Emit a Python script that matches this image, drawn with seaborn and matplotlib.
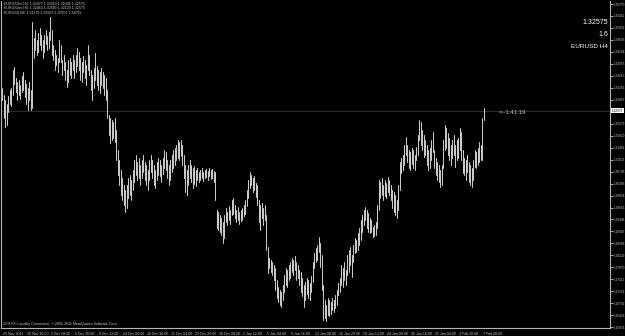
import matplotlib
matplotlib.use("Agg")
import matplotlib.pyplot as plt
import matplotlib.transforms as mtransforms
import numpy as np
import pandas as pd
import seaborn as sns

# ---------------- data (EURUSD H4) ----------------
high = [
    1.3325,1.3304,1.3289,1.3277,1.3301,1.3319,1.3325,1.3379,1.3388,1.3355,1.3343,1.3349,1.3334,1.3361,1.3373,1.3349,
    1.3337,1.3325,1.3343,1.3319,1.3523,1.3475,1.3499,1.3469,1.3490,1.3505,1.3484,1.3469,1.3484,1.3499,1.3481,1.3493,
    1.3538,1.3499,1.3454,1.3439,1.3424,1.3415,1.3469,1.3454,1.3409,1.3424,1.3403,1.3379,1.3409,1.3415,1.3403,1.3424,
    1.3409,1.3424,1.3445,1.3433,1.3415,1.3403,1.3421,1.3409,1.3394,1.3454,1.3424,1.3379,1.3364,1.3385,1.3430,1.3391,
    1.3379,1.3373,1.3385,1.3373,1.3364,1.3355,1.3319,1.3244,1.3235,1.3229,1.3223,1.3235,1.3199,1.3139,1.3109,1.3079,
    1.3055,1.3034,1.3019,1.3034,1.3055,1.3064,1.3049,1.3079,1.3109,1.3124,1.3103,1.3115,1.3094,1.3109,1.3124,1.3103,
    1.3094,1.3079,1.3109,1.3124,1.3109,1.3094,1.3079,1.3103,1.3115,1.3109,1.3094,1.3115,1.3139,1.3133,1.3109,1.3094,
    1.3109,1.3124,1.3139,1.3145,1.3154,1.3169,1.3163,1.3169,1.3154,1.3124,1.3094,1.3079,1.3094,1.3109,1.3094,1.3085,
    1.3091,1.3079,1.3085,1.3073,1.3079,1.3085,1.3073,1.3079,1.3082,1.3076,1.3085,1.3079,1.3082,1.3076,1.3073,1.2959,
    1.2953,1.2944,1.2935,1.2923,1.2944,1.2965,1.2953,1.2971,1.2959,1.2989,1.2995,1.2974,1.2959,1.2968,1.2953,1.2959,
    1.2965,1.2974,1.2989,1.3019,1.3049,1.3073,1.3064,1.3055,1.3061,1.3040,1.3034,1.2989,1.2974,1.2980,1.2965,1.2974,
    1.2944,1.2848,1.2815,1.2809,1.2803,1.2794,1.2785,1.2749,1.2728,1.2719,1.2713,1.2734,1.2764,1.2785,1.2779,1.2794,
    1.2803,1.2815,1.2809,1.2821,1.2803,1.2794,1.2779,1.2773,1.2755,1.2734,1.2743,1.2755,1.2749,1.2740,1.2761,1.2803,
    1.2830,1.2845,1.2854,1.2878,1.2860,1.2824,1.2734,1.2689,1.2674,1.2695,1.2689,1.2683,1.2695,1.2689,1.2704,1.2719,
    1.2740,1.2755,1.2794,1.2785,1.2803,1.2779,1.2824,1.2839,1.2848,1.2824,1.2854,1.2875,1.2869,1.2890,1.2905,1.2929,
    1.2944,1.2959,1.2968,1.2959,1.2950,1.2935,1.2929,1.2908,1.2914,1.2923,1.2974,1.3049,1.3043,1.3055,1.3034,1.3049,
    1.3040,1.3058,1.3049,1.3034,1.3019,1.3013,1.3004,1.2989,1.3034,1.3103,1.3115,1.3124,1.3154,1.3178,1.3154,1.3139,
    1.3133,1.3145,1.3139,1.3124,1.3148,1.3184,1.3229,1.3223,1.3199,1.3184,1.3169,1.3154,1.3139,1.3145,1.3169,1.3193,
    1.3139,1.3115,1.3103,1.3094,1.3079,1.3094,1.3169,1.3214,1.3205,1.3190,1.3175,1.3154,1.3169,1.3184,1.3154,1.3169,
    1.3175,1.3205,1.3193,1.3139,1.3115,1.3109,1.3124,1.3103,1.3094,1.3085,1.3109,1.3139,1.3133,1.3145,1.3163,1.3154,
    1.3235,1.3265,
]
low = [
    1.3289,1.3235,1.3208,1.3214,1.3253,1.3277,1.3271,1.3304,1.3337,1.3313,1.3289,1.3304,1.3292,1.3313,1.3319,1.3298,
    1.3277,1.3259,1.3289,1.3259,1.3265,1.3415,1.3439,1.3424,1.3433,1.3454,1.3439,1.3415,1.3433,1.3457,1.3439,1.3445,
    1.3469,1.3424,1.3409,1.3379,1.3394,1.3373,1.3403,1.3403,1.3364,1.3379,1.3349,1.3328,1.3343,1.3364,1.3355,1.3379,
    1.3355,1.3373,1.3391,1.3379,1.3349,1.3343,1.3373,1.3355,1.3334,1.3379,1.3364,1.3319,1.3289,1.3325,1.3349,1.3334,
    1.3319,1.3310,1.3334,1.3325,1.3304,1.3289,1.3235,1.3184,1.3160,1.3169,1.3175,1.3163,1.3109,1.3064,1.3034,1.3004,
    1.2989,1.2974,1.2953,1.2965,1.2995,1.3004,1.2989,1.3019,1.3043,1.3064,1.3049,1.3055,1.3034,1.3055,1.3073,1.3049,
    1.3034,1.3019,1.3049,1.3073,1.3055,1.3034,1.3025,1.3049,1.3064,1.3061,1.3043,1.3067,1.3085,1.3079,1.3055,1.3034,
    1.3049,1.3073,1.3085,1.3094,1.3109,1.3115,1.3109,1.3121,1.3094,1.3055,1.3013,1.3004,1.3034,1.3055,1.3043,1.3025,
    1.3037,1.3031,1.3049,1.3043,1.3049,1.3055,1.3046,1.3055,1.3058,1.3049,1.3061,1.3052,1.3055,1.3043,1.2989,1.2905,
    1.2899,1.2893,1.2884,1.2860,1.2875,1.2923,1.2914,1.2929,1.2917,1.2944,1.2947,1.2935,1.2923,1.2929,1.2917,1.2926,
    1.2929,1.2941,1.2947,1.2971,1.2995,1.3025,1.3034,1.3013,1.3019,1.2998,1.2974,1.2923,1.2899,1.2935,1.2914,1.2929,
    1.2839,1.2770,1.2785,1.2773,1.2764,1.2749,1.2719,1.2695,1.2683,1.2674,1.2668,1.2689,1.2713,1.2734,1.2728,1.2749,
    1.2755,1.2773,1.2764,1.2779,1.2749,1.2755,1.2734,1.2713,1.2701,1.2668,1.2689,1.2707,1.2695,1.2689,1.2713,1.2743,
    1.2785,1.2803,1.2809,1.2833,1.2788,1.2719,1.2629,1.2635,1.2626,1.2644,1.2641,1.2647,1.2659,1.2653,1.2665,1.2674,
    1.2704,1.2713,1.2734,1.2728,1.2749,1.2734,1.2764,1.2773,1.2794,1.2758,1.2803,1.2830,1.2833,1.2839,1.2854,1.2869,
    1.2893,1.2914,1.2929,1.2905,1.2893,1.2890,1.2893,1.2878,1.2881,1.2884,1.2905,1.2959,1.2995,1.3004,1.2989,1.3001,
    1.2995,1.3013,1.3004,1.2989,1.2965,1.2953,1.2944,1.2935,1.2959,1.3019,1.3070,1.3079,1.3094,1.3124,1.3103,1.3085,
    1.3079,1.3097,1.3085,1.3079,1.3109,1.3124,1.3169,1.3154,1.3139,1.3118,1.3124,1.3094,1.3079,1.3085,1.3109,1.3133,
    1.3085,1.3064,1.3049,1.3043,1.3028,1.3034,1.3085,1.3139,1.3145,1.3124,1.3109,1.3094,1.3115,1.3124,1.3088,1.3109,
    1.3115,1.3139,1.3109,1.3070,1.3064,1.3049,1.3073,1.3043,1.3034,1.3028,1.3049,1.3088,1.3085,1.3094,1.3103,1.3109,
    1.3109,1.3229,
]

time_labels = [
    "25 Nov 2011", "29 Nov 16:00", "2 Dec 08:00", "6 Dec 20:00", "9 Dec 12:00",
    "14 Dec 00:00", "16 Dec 16:00", "21 Dec 04:00", "23 Dec 20:00", "28 Dec 08:00",
    "2 Jan 12:00", "5 Jan 04:00", "9 Jan 16:00", "12 Jan 08:00", "16 Jan 20:00",
    "19 Jan 12:00", "24 Jan 00:00", "26 Jan 16:00", "31 Jan 04:00", "2 Feb 20:00",
    "7 Feb 08:00",
]
bars_per_label = 16

price_ticks = [
    1.35770, 1.35411, 1.35052, 1.34693, 1.34334, 1.33975, 1.33615, 1.33256, 1.32897,
    1.32179, 1.31820, 1.31461, 1.31102, 1.30743, 1.30383, 1.30024, 1.29665, 1.29306,
    1.28947, 1.28588, 1.28229, 1.27870, 1.27511, 1.27151, 1.26792, 1.26433, 1.26074,
]

current_price = 1.32575
timer_text = "<--1:41:19"
comment_lines = ["1.32575", "1.6", "EURUSD H4"]
header_lines = [
    "EURUSDm,H4  1.32477 1.32563 1.32436 1.32575",
    "EURUSDm,H4  1.32463 1.32580 1.32129 1.32575",
    "EURUSD,H4  1.31179 1.32563 1.30953 1.32099",
]
copyright_text = "CFH FX Liquidity Connection, \u00a9 2001-2011 MetaQuotes Software Corp."

# ---------------- style ----------------
sns.set_theme(style="dark", rc={
    "axes.facecolor": "black",
    "figure.facecolor": "black",
    "axes.edgecolor": "#b4b4b4",
    "text.color": "#c8c8c8",
    "xtick.color": "#b4b4b4",
    "ytick.color": "#c8c8c8",
    "axes.grid": False,
})
plt.rcParams["font.family"] = ["Liberation Sans", "DejaVu Sans"]

W, H = 625, 336
fig = plt.figure(figsize=(W / 100, H / 100), dpi=100)
ax = fig.add_axes([1 / W, 8 / H, 609 / W, 327 / H])

n = len(high)
bars = np.arange(n)
df = pd.DataFrame({
    "bar": np.concatenate([bars, bars]),
    "price": np.concatenate([np.array(low), np.array(high)]),
})
sns.lineplot(data=df, x="bar", y="price", units="bar", estimator=None,
             color="#c8c8c8", lw=0.75, ax=ax, legend=False, sort=False)

ax.set_xlim(-0.667, 405.33)
ax.set_ylim(1.2605, 1.3586)
ax.set_xlabel("")
ax.set_ylabel("")

# current price line
ax.axhline(current_price, color="#2a2a2a", lw=0.8, zorder=0)

# spines
for side in ["left", "bottom", "right"]:
    ax.spines[side].set_visible(True)
    ax.spines[side].set_color("#b4b4b4")
    ax.spines[side].set_linewidth(0.8)
ax.spines["top"].set_visible(False)

# y axis on right
ax.yaxis.tick_right()
ax.set_yticks(price_ticks)
ax.set_yticklabels([f"{v:.5f}" for v in price_ticks])
ax.tick_params(axis="y", which="both", direction="out", length=2, width=0.6,
               pad=0.6, labelsize=2.25, colors="#c8c8c8")

# x axis ticks and labels
xt = [k * bars_per_label for k in range(len(time_labels))]
ax.set_xticks(xt)
ax.set_xticklabels([""] * len(xt))
ax.tick_params(axis="x", direction="out", length=3, width=0.6, colors="#b4b4b4")
tr = mtransforms.blended_transform_factory(ax.transData, ax.transAxes)
for x, lab in zip(xt, time_labels):
    ax.text(x + 0.8, -0.012, lab, transform=tr, fontsize=2.6, color="#c8c8c8",
            ha="left", va="top", clip_on=False)

# current price label on the axis
trp = mtransforms.blended_transform_factory(ax.transAxes, ax.transData)
ax.text(1.0025, current_price, f"{current_price:.5f}", transform=trp, fontsize=2.25,
        color="black", ha="left", va="center", clip_on=False,
        bbox=dict(boxstyle="square,pad=0.25", fc="white", ec="white", lw=0))

# timer text
ax.text(331, current_price, timer_text, fontsize=4.2, color="#c8c8c8",
        ha="left", va="top")

# comment text top right
for i, line in enumerate(comment_lines):
    fig.text(608 / W, 1 - (23 + 11.5 * i) / H, line, fontsize=5.0 if i < 2 else 4.6,
             color="white", ha="right", va="center")

# header lines top left
for i, line in enumerate(header_lines):
    fig.text(4 / W, 1 - (3.5 + 4.5 * i) / H, line, fontsize=2.6, color="#c8c8c8",
             ha="left", va="center")

# copyright
ax.text(0.003, 0.006, copyright_text, transform=ax.transAxes, fontsize=2.6,
        color="#c8c8c8", ha="left", va="bottom")

fig.savefig("out.png", dpi=100, facecolor="black")
